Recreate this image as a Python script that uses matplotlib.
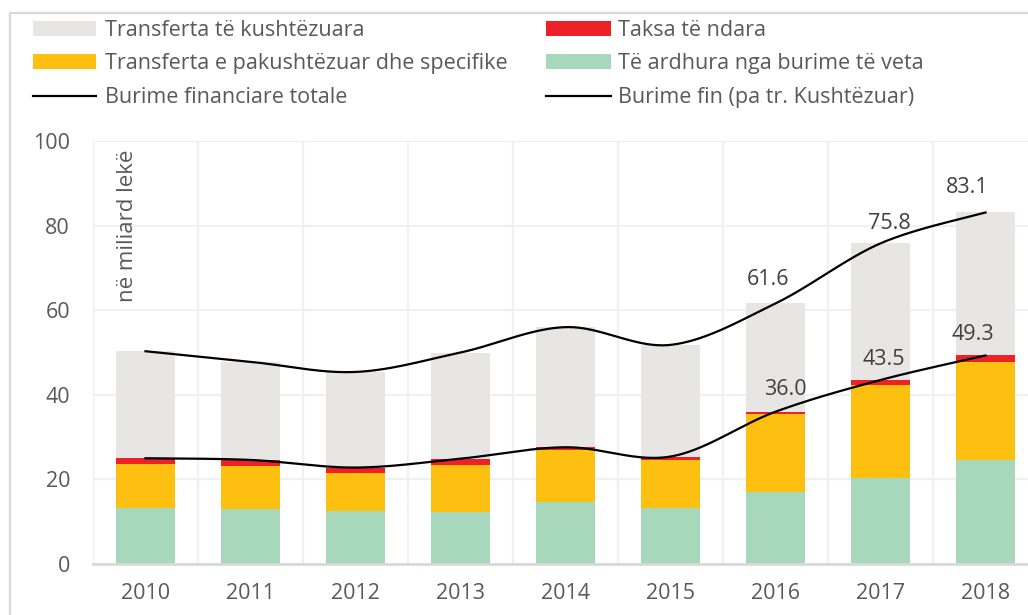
import numpy as np
import matplotlib
matplotlib.use("Agg")
import matplotlib.pyplot as plt
from matplotlib.patches import Rectangle
from matplotlib.lines import Line2D

plt.rcParams['font.family'] = ['Open Sans', 'DejaVu Sans']

years = ['2010', '2011', '2012', '2013', '2014', '2015', '2016', '2017', '2018']
own_revenue = [13.3, 12.9, 12.5, 12.4, 14.7, 13.3, 17.0, 20.4, 24.5]
uncond_transfer = [10.4, 10.3, 8.9, 10.9, 12.2, 11.3, 18.4, 21.9, 23.2]
shared_taxes = [1.3, 1.4, 1.4, 1.6, 0.7, 0.8, 0.6, 1.2, 1.6]
cond_transfer = [25.3, 23.2, 22.6, 25.1, 28.4, 26.4, 25.6, 32.3, 33.8]

lbl_series = ['Transferta të kushtëzuara', 'Taksa të ndara',
              'Transferta e pakushtëzuar dhe specifike', 'Të ardhura nga burime të veta',
              'Burime financiare totale', 'Burime fin (pa tr. Kushtëzuar)']
labeled_years = ['2016', '2017', '2018']

C_GRAY = '#E7E6E5'
C_RED = '#EE2127'
C_ORANGE = '#FDBF10'
C_GREEN = '#A8D8BC'
C_TEXT = '#595959'
FS = 15.5

W, H = 1028, 615
fig = plt.figure(figsize=(W / 100, H / 100), dpi=100)

# axes: x range -0.5..8.5 spans px 93..1038
left_px, right_px = 93, 1038
top_px, bot_px = 141, 564
ax = fig.add_axes([left_px / W, 1 - bot_px / H, (right_px - left_px) / W, (bot_px - top_px) / H])
ax.set_xlim(-0.5, 8.5)
ax.set_ylim(0, 100)

x = np.arange(len(years))
own = np.array(own_revenue)
unc = np.array(uncond_transfer)
tax = np.array(shared_taxes)
cond = np.array(cond_transfer)
bw = 0.57
ax.bar(x, own, bw, color=C_GREEN, zorder=2)
ax.bar(x, unc, bw, bottom=own, color=C_ORANGE, zorder=2)
ax.bar(x, tax, bw, bottom=own + unc, color=C_RED, zorder=2)
ax.bar(x, cond, bw, bottom=own + unc + tax, color=C_GRAY, zorder=2)

no_cond = own + unc + tax
total = no_cond + cond


def smooth(xs, ys, n=40):
    xs = np.asarray(xs, float)
    ys = np.asarray(ys, float)
    P = np.column_stack([xs, ys])
    P = np.vstack([P[0], P, P[-1]])
    out = []
    for i in range(1, len(P) - 2):
        p0, p1, p2, p3 = P[i - 1], P[i], P[i + 1], P[i + 2]
        c1 = p1 + (p2 - p0) / 6
        c2 = p2 - (p3 - p1) / 6
        t = np.linspace(0, 1, n)[:, None]
        seg = (1 - t) ** 3 * p1 + 3 * (1 - t) ** 2 * t * c1 + 3 * (1 - t) * t ** 2 * c2 + t ** 3 * p2
        out.append(seg if i == 1 else seg[1:])
    s = np.vstack(out)
    return s[:, 0], s[:, 1]


sx, sy = smooth(x, total)
ax.plot(sx, sy, color='black', lw=1.6, zorder=4)
sx2, sy2 = smooth(x, no_cond)
ax.plot(sx2, sy2, color='black', lw=1.6, zorder=4)

# data labels (pixel offsets)
off_tot = [(-7, 24), (9, 20), (-18, 25)]
off_nc = [(10, 22), (3, 20), (-13, 21)]
for k, yr in enumerate(labeled_years):
    i = years.index(yr)
    ax.annotate(f'{total[i]:.1f}', (x[i], total[i]), xytext=off_tot[k], textcoords='offset pixels',
                ha='center', va='center', fontsize=FS, color='#404040', zorder=5)
    ax.annotate(f'{no_cond[i]:.1f}', (x[i], no_cond[i]), xytext=off_nc[k], textcoords='offset pixels',
                ha='center', va='center', fontsize=FS, color='#404040', zorder=5)

# grid
ax.set_yticks(np.arange(0, 101, 20))
ax.set_xticks(x)
ax.set_xticklabels(years)
ax.set_xticks(np.arange(-0.5, 8.6, 1), minor=True)
ax.grid(axis='y', which='major', color='#EEF0F1', lw=1.6, zorder=0)
ax.grid(axis='x', which='minor', color='#EEF0F1', lw=1.6, zorder=0)
ax.grid(axis='x', which='major', visible=False)
for s in ['top', 'right', 'left']:
    ax.spines[s].set_visible(False)
ax.spines['bottom'].set_color('#D9D9D9')
ax.spines['bottom'].set_linewidth(2)
ax.spines['bottom'].set_zorder(3)
ax.tick_params(axis='both', which='both', length=0, labelsize=FS, colors=C_TEXT)
ax.tick_params(axis='y', pad=16.5)
ax.tick_params(axis='x', pad=14)

ax.text(0.036, 0.98, 'në miliard lekë', transform=ax.transAxes, rotation=90,
        ha='center', va='top', fontsize=16, color=C_TEXT)

# chart border
fig.add_artist(Rectangle((10 / W, -0.05), 1.1, 1 - 13 / H + 0.05, transform=fig.transFigure,
                         fill=False, edgecolor='#D9D9D9', lw=1.6))

# legend (manual)
def fx(px):
    return px / W


def fy(py):
    return 1 - py / H


rows = [29, 62, 96]
cols = [(33, 96, 105), (546, 611, 618)]
entries = [
    (0, 0, 'patch', C_GRAY, lbl_series[0]),
    (1, 0, 'patch', C_RED, lbl_series[1]),
    (0, 1, 'patch', C_ORANGE, lbl_series[2]),
    (1, 1, 'patch', C_GREEN, lbl_series[3]),
    (0, 2, 'line', 'black', lbl_series[4]),
    (1, 2, 'line', 'black', lbl_series[5]),
]
for c, r, kind, col, txt in entries:
    x0, x1, tx = cols[c]
    yc = rows[r]
    if kind == 'patch':
        fig.add_artist(Rectangle((fx(x0), fy(yc + 7)), fx(x1 - x0), 15 / H,
                                 transform=fig.transFigure, color=col, lw=0))
    else:
        fig.add_artist(Line2D([fx(x0), fx(x1)], [fy(yc), fy(yc)], transform=fig.transFigure,
                              color=col, lw=1.6))
    fig.text(fx(tx), fy(yc + 7), txt, ha='left', va='baseline', fontsize=15.5, color=C_TEXT)

fig.savefig('out.png', dpi=100)
